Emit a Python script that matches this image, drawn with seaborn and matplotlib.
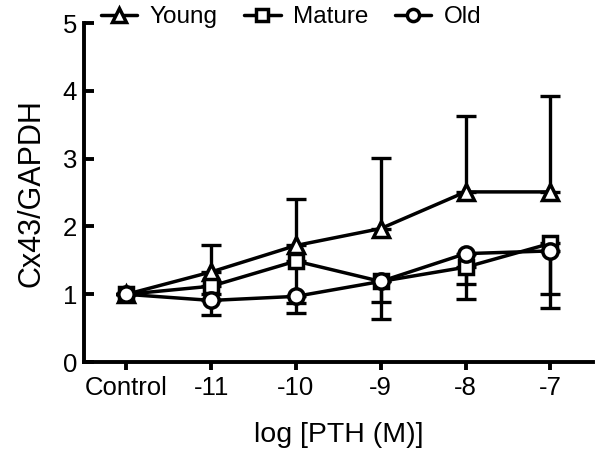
import numpy as np
import pandas as pd
import matplotlib
matplotlib.use("Agg")
import matplotlib.pyplot as plt
import seaborn as sns

# values
doses = ["Control", "-11", "-10", "-9", "-8", "-7"]
young = [1.0, 1.33, 1.72, 1.97, 2.51, 2.51]
young_err = [0.0, 0.39, 0.68, 1.04, 1.12, 1.42]
mature = [1.0, 1.12, 1.49, 1.19, 1.40, 1.75]
mature_err = [0.0, 0.12, 0.76, 0.55, 0.25, 0.75]
old = [1.0, 0.91, 0.97, 1.19, 1.60, 1.64]
old_err = [0.0, 0.21, 0.10, 0.31, 0.67, 0.84]

groups = ["Young", "Mature", "Old"]
pos = np.arange(len(doses))

df = pd.concat([
    pd.DataFrame({"pos": pos, "ratio": young, "group": "Young"}),
    pd.DataFrame({"pos": pos, "ratio": mature, "group": "Mature"}),
    pd.DataFrame({"pos": pos, "ratio": old, "group": "Old"}),
])

sns.set_style("ticks")
plt.rcParams["font.family"] = ["Liberation Sans", "DejaVu Sans"]
plt.rcParams["text.color"] = "black"
plt.rcParams["axes.labelcolor"] = "black"
plt.rcParams["xtick.color"] = "black"
plt.rcParams["ytick.color"] = "black"
plt.rcParams["axes.edgecolor"] = "black"

fig = plt.figure(figsize=(6, 4.51), dpi=100)
ax = fig.add_axes([0.14, 0.197, 0.848, 0.752])

sns.lineplot(data=df, x="pos", y="ratio", hue="group", style="group",
             palette=["black"] * 3, markers={"Young": "^", "Mature": "s", "Old": "o"},
             dashes=False, linewidth=2.5, markersize=12, legend=False, ax=ax, zorder=3)

for line in ax.lines:
    line.set_markerfacecolor("white")
    line.set_markeredgecolor("black")
    line.set_markeredgewidth(2.5)
    line.set_clip_on(False)
ax.lines[1].set_markersize(10.5)
ax.lines[2].set_markersize(11)
handles = list(ax.lines)

zeros = np.zeros(len(doses))
ekw = dict(fmt="none", ecolor="black", elinewidth=2.4, capsize=7, capthick=2.4, zorder=1)
ax.errorbar(pos, young, yerr=[zeros, young_err], **ekw)
ax.errorbar(pos, mature, yerr=[mature_err, zeros], **ekw)
ax.errorbar(pos, old, yerr=[old_err, zeros], **ekw)

ax.set_xlim(-0.5, 5.5)
ax.set_ylim(0, 5)
ax.set_xticks(pos)
ax.set_xticklabels(doses)
ax.set_yticks([0, 1, 2, 3, 4, 5])
ax.set_xlabel("log [PTH (M)]", fontsize=20.5, labelpad=16)
ax.set_ylabel("Cx43/GAPDH", fontsize=22, labelpad=12)
ax.tick_params(axis="x", direction="out", length=6, width=2.8, labelsize=18.5, pad=4)
ax.tick_params(axis="y", direction="in", length=7, width=2.8, labelsize=18.5, pad=5)
sns.despine(ax=ax)
for side in ["left", "bottom"]:
    ax.spines[side].set_linewidth(2.8)

fig.legend(handles, groups, loc="center", bbox_to_anchor=(0.485, 0.962), ncol=3,
           frameon=False, fontsize=17.5, handlelength=1.5, handletextpad=0.5,
           columnspacing=1.1, markerscale=0.8)

fig.savefig("out.png", dpi=100)
